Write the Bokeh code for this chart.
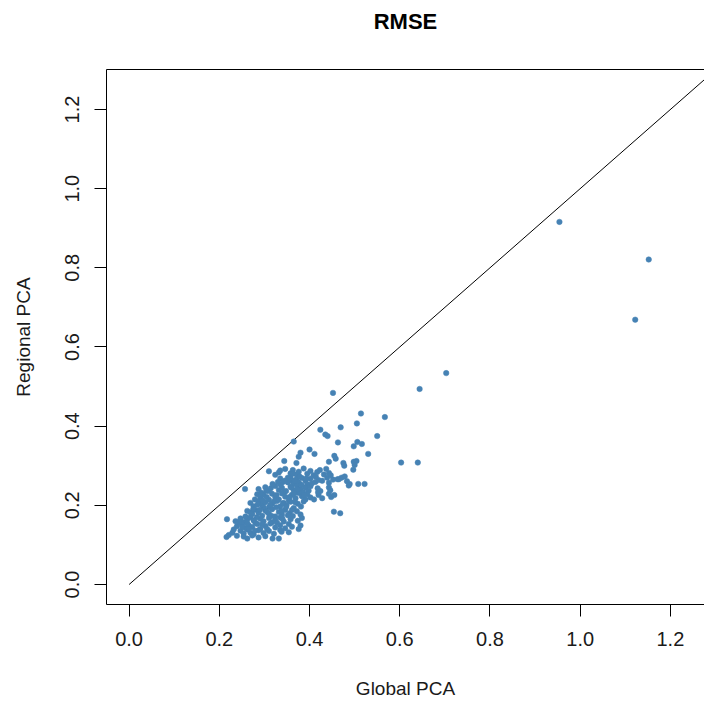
from bokeh.plotting import figure
from bokeh.models import Range1d, LinearAxis, FixedTicker, NumeralTickFormatter, ColumnDataSource
from bokeh.embed import file_html
from bokeh.resources import INLINE

# ---- data (RMSE: Global PCA vs Regional PCA) ----
global_pca = [
    # outliers / sparse points
    0.954, 1.152, 1.122, 0.703, 0.644, 0.603, 0.640,
    0.452, 0.514, 0.567, 0.505, 0.469, 0.424, 0.435, 0.440, 0.550, 0.463, 0.365,
    0.506, 0.516, 0.498, 0.400, 0.411, 0.380, 0.376, 0.530, 0.455, 0.458, 0.443,
    0.344, 0.371, 0.475, 0.477, 0.498, 0.504, 0.500, 0.497, 0.462, 0.471, 0.478,
    0.483, 0.489, 0.508, 0.522, 0.257, 0.454, 0.468, 0.217,
    # dense core, row by row
    0.310, 0.324, 0.332, 0.335, 0.346, 0.358, 0.363, 0.371, 0.376, 0.387, 0.395,
    0.402, 0.409, 0.417, 0.423, 0.437, 0.443,
    0.335, 0.341, 0.358, 0.361, 0.365, 0.371, 0.376, 0.383, 0.391, 0.395, 0.402,
    0.413, 0.420, 0.439, 0.443, 0.465,
    0.287, 0.302, 0.310, 0.324, 0.332, 0.339, 0.344, 0.358, 0.365, 0.372, 0.380,
    0.386, 0.391, 0.398, 0.402, 0.418, 0.424, 0.443, 0.446, 0.487,
    0.284, 0.291, 0.298, 0.310, 0.317, 0.324, 0.332, 0.339, 0.346, 0.354, 0.361,
    0.369, 0.376, 0.383, 0.391, 0.395, 0.402, 0.420, 0.428, 0.443, 0.448, 0.455,
    0.269, 0.276, 0.287, 0.295, 0.302, 0.310, 0.317, 0.328, 0.335, 0.343, 0.349,
    0.358, 0.365, 0.374, 0.381, 0.387,
    0.262, 0.273, 0.280, 0.287, 0.295, 0.302, 0.310, 0.317, 0.324, 0.332, 0.339,
    0.346, 0.356, 0.363, 0.372, 0.380,
    0.236, 0.247, 0.254, 0.262, 0.269, 0.280, 0.291, 0.298, 0.310, 0.317, 0.324,
    0.335, 0.343, 0.358, 0.374, 0.383,
    0.239, 0.250, 0.258, 0.265, 0.273, 0.284, 0.291, 0.302, 0.313, 0.324, 0.335,
    0.346, 0.354, 0.361, 0.380,
    0.247, 0.254, 0.262, 0.269, 0.276, 0.287, 0.298, 0.310, 0.321, 0.335, 0.354,
    0.376,
    0.216, 0.221, 0.239, 0.254, 0.262, 0.273, 0.287, 0.302, 0.318, 0.332, 0.338,
    # extra points filling the dense core
    0.279, 0.293, 0.305, 0.314, 0.321, 0.327, 0.336, 0.341, 0.348, 0.352, 0.356,
    0.360, 0.367, 0.368, 0.373, 0.378, 0.382, 0.388, 0.393, 0.348, 0.338, 0.326,
    0.313, 0.306, 0.298, 0.290, 0.283, 0.276, 0.269, 0.258, 0.251, 0.244, 0.266,
    0.279, 0.295, 0.306, 0.316, 0.328, 0.340, 0.352, 0.361, 0.366, 0.352, 0.362,
    0.345, 0.330, 0.318, 0.304, 0.296, 0.285, 0.275, 0.262, 0.232, 0.229,
    0.405, 0.414, 0.428, 0.432, 0.452, 0.447, 0.419, 0.410,
]
regional_pca = [
    0.916, 0.821, 0.669, 0.534, 0.494, 0.308, 0.308,
    0.484, 0.432, 0.423, 0.407, 0.397, 0.391, 0.379, 0.375, 0.375, 0.359, 0.361,
    0.360, 0.355, 0.349, 0.341, 0.330, 0.333, 0.323, 0.330, 0.325, 0.318, 0.310,
    0.312, 0.307, 0.307, 0.300, 0.310, 0.312, 0.302, 0.290, 0.266, 0.270, 0.273,
    0.261, 0.254, 0.254, 0.254, 0.241, 0.184, 0.180, 0.165,
    0.286, 0.277, 0.283, 0.288, 0.292, 0.281, 0.289, 0.278, 0.285, 0.293, 0.280,
    0.287, 0.276, 0.284, 0.289, 0.292, 0.282,
    0.268, 0.259, 0.270, 0.262, 0.255, 0.266, 0.258, 0.269, 0.262, 0.253, 0.267,
    0.259, 0.264, 0.270, 0.257, 0.266,
    0.241, 0.246, 0.236, 0.249, 0.239, 0.244, 0.233, 0.247, 0.238, 0.250, 0.241,
    0.234, 0.245, 0.237, 0.248, 0.243, 0.236, 0.245, 0.238, 0.250,
    0.228, 0.219, 0.226, 0.214, 0.229, 0.221, 0.215, 0.230, 0.222, 0.212, 0.227,
    0.218, 0.231, 0.223, 0.215, 0.228, 0.220, 0.226, 0.218, 0.229, 0.221, 0.226,
    0.206, 0.198, 0.210, 0.201, 0.208, 0.195, 0.204, 0.211, 0.197, 0.206, 0.200,
    0.209, 0.193, 0.204, 0.197, 0.210,
    0.186, 0.178, 0.189, 0.181, 0.174, 0.187, 0.179, 0.190, 0.172, 0.183, 0.176,
    0.188, 0.180, 0.173, 0.185, 0.177,
    0.160, 0.167, 0.158, 0.164, 0.170, 0.156, 0.166, 0.160, 0.168, 0.157, 0.163,
    0.169, 0.159, 0.165, 0.161, 0.168,
    0.147, 0.152, 0.143, 0.150, 0.145, 0.153, 0.141, 0.148, 0.154, 0.144, 0.150,
    0.142, 0.153, 0.146, 0.149,
    0.136, 0.129, 0.139, 0.131, 0.127, 0.137, 0.130, 0.135, 0.128, 0.138, 0.132,
    0.140,
    0.120, 0.125, 0.123, 0.121, 0.116, 0.124, 0.119, 0.122, 0.116, 0.116, 0.133,
    0.215, 0.232, 0.221, 0.243, 0.210, 0.226, 0.252, 0.205, 0.236, 0.258, 0.221,
    0.245, 0.262, 0.208, 0.240, 0.273, 0.252, 0.226, 0.268, 0.195, 0.186, 0.195,
    0.201, 0.183, 0.195, 0.189, 0.170, 0.162, 0.182, 0.172, 0.146, 0.158, 0.141,
    0.136, 0.152, 0.140, 0.173, 0.156, 0.166, 0.175, 0.188, 0.230, 0.270, 0.280,
    0.262, 0.259, 0.254, 0.236, 0.212, 0.202, 0.190, 0.154, 0.139, 0.131,
    0.255, 0.272, 0.262, 0.278, 0.265, 0.276, 0.233, 0.215,
]
ref_line_x = [0.0, 1.3]
ref_line_y = [0.0, 1.3]
tick_values = [0.0, 0.2, 0.4, 0.6, 0.8, 1.0, 1.2]
title_text = "RMSE"

FONT = "Liberation Sans"

p = figure(width=704, height=704, output_backend="svg", toolbar_location=None,
           x_range=Range1d(-0.0501, 1.2756), y_range=Range1d(-0.0505, 1.301),
           min_border_left=106, min_border_right=0, min_border_top=69, min_border_bottom=100,
           x_axis_label="Global PCA", y_axis_label="Regional PCA")
p.background_fill_color = "white"
p.border_fill_color = "white"
p.outline_line_color = None
p.grid.visible = False

for ax in (p.xaxis[0], p.yaxis[0]):
    ax.ticker = FixedTicker(ticks=tick_values, minor_ticks=[])
    ax.formatter = NumeralTickFormatter(format="0.0")
    ax.axis_line_color = "black"
    ax.axis_line_width = 1
    ax.major_tick_line_color = "black"
    ax.major_tick_in = 0
    ax.major_tick_out = 12
    ax.minor_tick_out = 0
    ax.minor_tick_in = 0
    ax.major_label_text_font = FONT
    ax.major_label_text_font_size = "20px"
    ax.major_label_text_color = "#1a1a1a"
    ax.major_label_standoff = 15
    ax.axis_label_text_font = FONT
    ax.axis_label_text_font_size = "19px"
    ax.axis_label_text_font_style = "normal"
    ax.axis_label_text_color = "#1a1a1a"
p.yaxis[0].major_label_orientation = "vertical"
p.xaxis[0].axis_label_standoff = 29
p.yaxis[0].axis_label_standoff = 29

# top border of the box, carrying the chart title as its label
top = LinearAxis(ticker=FixedTicker(ticks=[], minor_ticks=[]), axis_label=title_text)
top.axis_line_color = "black"
top.major_tick_out = 0
top.major_tick_in = 0
top.minor_tick_out = 0
top.minor_tick_in = 0
top.major_label_text_font_size = "0px"
top.major_label_standoff = 0
top.axis_label_standoff = 36
top.axis_label_text_font = FONT
top.axis_label_text_font_size = "22px"
top.axis_label_text_font_style = "bold"
top.axis_label_text_color = "black"
p.add_layout(top, "above")

p.line(ref_line_x, ref_line_y, line_color="black", line_width=1)

src = ColumnDataSource(dict(x=global_pca, y=regional_pca))
p.scatter("x", "y", source=src, size=5.5, fill_color="#4682b4", line_color="#4682b4",
          line_width=0.5)

open("out.html", "w").write(file_html(p, INLINE))
